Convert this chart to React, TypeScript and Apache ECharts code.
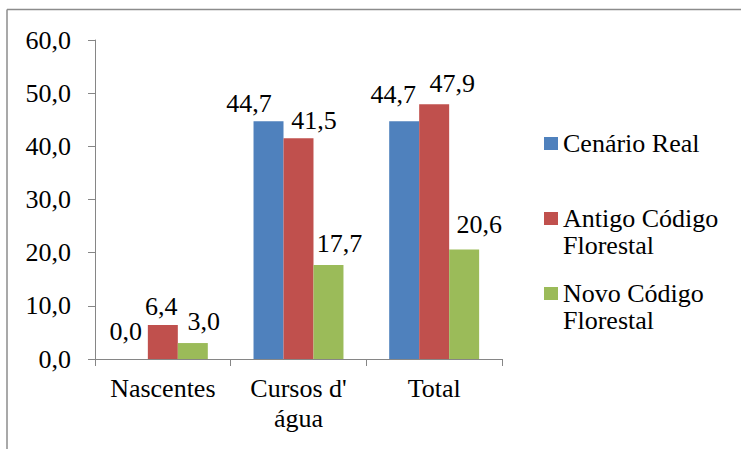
import React, { useEffect, useRef } from 'react';
import * as echarts from 'echarts';

const categories = ['Nascentes', "Cursos d'\nágua", 'Total'];
const seriesNames = ['Cenário Real', 'Antigo Código Florestal', 'Novo Código Florestal'];
const legendFirstLines = ['Cenário Real', 'Antigo Código', 'Novo Código'];
const legendSecondLines = ['', 'Florestal', 'Florestal'];
const cenarioReal = [0.0, 44.7, 44.7];
const antigoCodigo = [6.4, 41.5, 47.9];
const novoCodigo = [3.0, 17.7, 20.6];

const colors = ['#4F81BD', '#C0504D', '#9BBB59'];
const FONT = 'Liberation Serif';
// label offsets (style only): per series, per category
const labelOffsets = [
  [[-7, -7], [-19.5, 3], [-11, -6]],
  [[-1.5, 3], [15.5, 3], [18, 0]],
  [[11, -1], [11, 0], [15, -4]],
];
const legendCenters = [143.5, 218.5, 293.5];

const fmt = (v: number) => v.toFixed(1).replace('.', ',');

export default function App() {
  const ref = useRef<HTMLDivElement>(null);
  useEffect(() => {
    if (!ref.current) return;
    const chart = echarts.init(ref.current, undefined, { renderer: 'svg' });
    const values = [cenarioReal, antigoCodigo, novoCodigo];
    const series = values.map((arr, si) => ({
      name: seriesNames[si],
      type: 'bar',
      barGap: '0%',
      barCategoryGap: '33.7%',
      itemStyle: { color: colors[si] },
      label: {
        show: true,
        position: 'top',
        distance: 8,
        fontSize: 26,
        fontFamily: FONT,
        color: '#000',
        lineHeight: 26,
        formatter: (p: any) => fmt(p.value),
      },
      data: arr.map((v, ci) => ({
        value: v,
        label: { offset: labelOffsets[si][ci] },
      })),
    }));
    const legends = seriesNames.map((n, i) => ({
      data: [n],
      left: 544,
      top: legendCenters[i] - 15,
      orient: 'vertical',
      padding: 0,
      itemWidth: 14,
      itemHeight: 13,
      icon: 'rect',
      selectedMode: false,
      formatter: () => legendFirstLines[i],
      textStyle: { fontSize: 26, fontFamily: FONT, color: '#000', lineHeight: 30 },
    }));
    const graphics: any[] = [
      { type: 'line', shape: { x1: 7, y1: 9.5, x2: 741, y2: 9.5 }, style: { stroke: '#8c8c8c', lineWidth: 1.5 } },
      { type: 'line', shape: { x1: 7, y1: 9.5, x2: 7, y2: 449 }, style: { stroke: '#8c8c8c', lineWidth: 1.5 } },
    ];
    legendSecondLines.forEach((t, i) => {
      if (!t) return;
      graphics.push({
        type: 'text',
        x: 563,
        y: legendCenters[i] + 27,
        style: { text: t, fontSize: 26, fontFamily: FONT, fill: '#000', verticalAlign: 'middle', align: 'left' },
      });
    });
    chart.setOption({
      animation: false,
      textStyle: { fontFamily: FONT },
      grid: { left: 95, right: 239, top: 40, bottom: 90 },
      legend: legends,
      graphic: graphics,
      xAxis: {
        type: 'category',
        data: categories,
        axisLine: { show: true, lineStyle: { color: '#868686', width: 1 } },
        axisTick: { show: true, length: 7, alignWithLabel: false, lineStyle: { color: '#868686' } },
        axisLabel: { interval: 0, margin: 14, fontSize: 26, fontFamily: FONT, color: '#000', lineHeight: 30 },
      },
      yAxis: {
        type: 'value',
        min: 0,
        max: 60,
        interval: 10,
        axisLine: { show: true, lineStyle: { color: '#868686', width: 1 } },
        axisTick: { show: true, length: 7, lineStyle: { color: '#868686' } },
        splitLine: { show: false },
        axisLabel: { margin: 24, fontSize: 26, fontFamily: FONT, color: '#000', formatter: (v: number) => fmt(v) },
      },
      series,
    });
    return () => chart.dispose();
  }, []);
  return (
    <>
      <style>{`svg text { font-family: "Liberation Serif", "Times New Roman", serif !important; }`}</style>
      <div ref={ref} style={{ position: 'absolute', left: 0, top: 0, width: 741, height: 449 }} />
    </>
  );
}
